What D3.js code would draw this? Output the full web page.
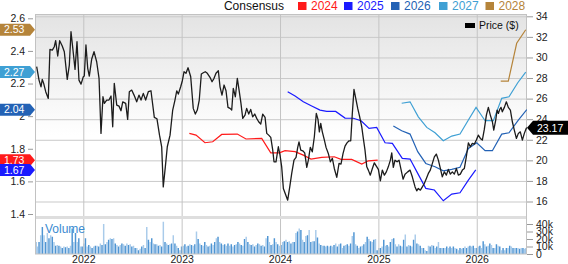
<!DOCTYPE html>
<html><head><meta charset="utf-8">
<script src="https://cdnjs.cloudflare.com/ajax/libs/d3/7.8.5/d3.min.js"></script>
<style>
body{margin:0;background:#fff}
svg{display:block;font-family:"Liberation Sans",Arial,Helvetica,sans-serif}
</style>
</head><body><svg id="c" width="568" height="264"></svg>
<script>
// ---------- DATA ----------
const yearTicks = [2022, 2023, 2024, 2025, 2026];
const priceTicks = [16, 18, 20, 22, 24, 26, 28, 30, 32, 34];
const epsTicks = [1.4, 1.6, 1.8, 2.0, 2.2, 2.4, 2.6];
const volumeTicks = [0, 10, 20, 30, 40];
const legendYears = ["2024", "2025", "2026", "2027", "2028"];
const legendColors = ["#ff1a1a", "#1a1aff", "#2362b5", "#3fa0d4", "#b5843a"];

const priceDates = [
2021.526,2021.550,2021.570,2021.583,2021.597,2021.618,2021.644,2021.661,2021.685,2021.705,
2021.719,2021.740,2021.760,2021.786,2021.807,2021.837,2021.858,2021.875,2021.895,2021.916,
2021.936,2021.956,2021.977,2022.000,2022.010,2022.027,2022.045,2022.061,2022.085,2022.109,
2022.136,2022.160,2022.180,2022.200,2022.214,2022.238,2022.261,2022.282,2022.299,2022.315,
2022.340,2022.363,2022.383,2022.401,2022.431,2022.451,2022.468,2022.492,2022.516,2022.543,
2022.566,2022.587,2022.610,2022.634,2022.661,2022.688,2022.722,2022.749,2022.775,2022.797,
2022.813,2022.834,2022.854,2022.882,2022.909,2022.932,2022.950,2022.966,2022.990,2023.007,
2023.024,2023.044,2023.065,2023.092,2023.118,2023.139,2023.159,2023.179,2023.200,2023.220,
2023.240,2023.261,2023.288,2023.309,2023.329,2023.349,2023.373,2023.390,2023.410,2023.431,
2023.451,2023.471,2023.492,2023.509,2023.525,2023.546,2023.566,2023.586,2023.603,2023.621,
2023.644,2023.661,2023.682,2023.702,2023.722,2023.743,2023.763,2023.783,2023.804,2023.824,
2023.848,2023.865,2023.885,2023.906,2023.926,2023.939,2023.959,2023.983,2024.000,2024.017,
2024.034,2024.078,2024.099,2024.119,2024.142,2024.163,2024.180,2024.193,2024.211,2024.231,
2024.251,2024.272,2024.288,2024.308,2024.328,2024.349,2024.369,2024.386,2024.400,2024.414,
2024.430,2024.451,2024.468,2024.491,2024.512,2024.532,2024.552,2024.577,2024.600,2024.620,
2024.641,2024.661,2024.681,2024.702,2024.719,2024.735,2024.752,2024.770,2024.790,2024.810,
2024.831,2024.847,2024.864,2024.882,2024.898,2024.918,2024.939,2024.959,2024.979,2025.000,
2025.020,2025.040,2025.061,2025.081,2025.101,2025.122,2025.136,2025.152,2025.169,2025.190,
2025.210,2025.230,2025.251,2025.271,2025.298,2025.322,2025.345,2025.373,2025.390,2025.406,
2025.427,2025.447,2025.467,2025.488,2025.508,2025.528,2025.549,2025.569,2025.589,2025.610,
2025.630,2025.650,2025.671,2025.691,2025.711,2025.732,2025.752,2025.772,2025.793,2025.813,
2025.833,2025.854,2025.874,2025.894,2025.915,2025.935,2025.955,2025.976,2025.996,2026.016,
2026.037,2026.057,2026.077,2026.098,2026.118,2026.138,2026.159,2026.173,2026.193,2026.207,
2026.220,2026.234,2026.247,2026.260,2026.281,2026.301,2026.321,2026.342,2026.362,2026.382,
2026.403,2026.423,2026.443,2026.464,2026.484,2026.504,2026.511];
const priceClose = [
29.10,27.80,27.15,27.87,27.48,26.67,26.02,30.79,30.72,31.04,
31.63,30.14,31.63,31.11,30.56,27.87,29.26,32.50,30.72,28.84,
31.53,27.80,27.41,28.12,28.19,31.21,28.94,28.19,29.82,30.56,
29.58,27.97,22.62,26.18,25.54,25.86,25.86,26.25,23.26,27.48,
25.37,25.27,24.82,25.69,25.54,23.98,26.67,26.83,26.34,25.69,
26.34,25.86,26.51,25.86,26.67,26.76,24.18,24.04,22.45,21.32,
17.42,19.37,21.32,22.45,24.89,25.86,26.76,26.44,27.15,27.74,
28.61,28.46,29.00,28.12,25.05,24.50,24.89,25.86,28.39,28.51,
28.61,28.46,28.07,27.64,27.97,28.46,28.71,27.15,26.34,27.32,
26.76,25.15,25.05,24.89,27.00,26.18,27.97,26.67,25.54,24.08,
24.40,25.05,24.50,24.95,24.23,24.50,24.08,23.75,23.52,24.50,
24.18,22.62,22.45,22.23,20.99,19.86,19.86,21.32,20.51,19.37,
17.27,16.13,17.42,18.73,20.02,20.28,21.26,21.80,20.99,20.93,
20.73,19.31,20.02,21.26,20.83,22.29,24.56,23.98,22.77,23.59,
22.77,21.97,21.26,20.67,19.86,20.19,19.21,18.34,19.70,19.63,
20.67,21.38,21.70,21.90,21.90,24.56,26.90,26.02,25.05,24.23,
23.26,22.13,20.99,19.37,19.05,18.56,19.21,19.76,19.44,19.12,
18.01,19.05,18.56,18.88,19.37,20.02,20.73,19.31,20.02,19.86,
20.02,19.12,18.17,18.65,18.88,19.05,18.40,17.42,17.04,17.27,
17.10,17.42,17.75,18.24,18.73,19.05,19.70,20.34,20.61,20.02,
19.21,18.40,18.88,18.56,19.12,18.66,18.88,18.66,19.21,18.56,
18.66,19.05,19.21,20.34,21.70,21.32,21.65,21.58,21.97,22.45,
22.13,21.97,23.01,24.40,25.15,24.40,23.75,22.94,23.91,24.89,
24.56,24.95,25.15,24.72,25.15,25.69,25.15,24.89,23.75,22.94,
22.13,22.62,22.77,21.97,22.62,23.11,23.17];

const cons2024Dates = [2023.078,2023.146,2023.237,2023.316,2023.407,2023.566,2023.654,2023.814,2023.906,2023.993,2024.051,2024.153,2024.237,2024.315,2024.424,2024.552,2024.620,2024.729,2024.831,2024.898,2024.993];
const cons2024Values = [1.894,1.884,1.837,1.843,1.888,1.890,1.860,1.864,1.775,1.775,1.788,1.782,1.761,1.737,1.747,1.751,1.735,1.735,1.706,1.726,1.73];
const cons2025Dates = [2024.078,2024.153,2024.237,2024.322,2024.407,2024.475,2024.566,2024.661,2024.745,2024.824,2024.905,2024.983,2025.068,2025.142,2025.243,2025.322,2025.400,2025.482,2025.569,2025.660,2025.746,2025.830,2025.915,2025.990];
const cons2025Values = [2.150,2.123,2.088,2.062,2.037,2.029,2.029,1.988,1.987,1.972,1.925,1.931,1.837,1.833,1.741,1.737,1.649,1.557,1.547,1.481,1.522,1.530,1.608,1.67];
const cons2026Dates = [2025.152,2025.237,2025.322,2025.400,2025.482,2025.576,2025.660,2025.746,2025.830,2025.915,2026.000,2026.085,2026.159,2026.254,2026.328,2026.423,2026.509];
const cons2026Values = [1.939,1.910,1.890,1.782,1.710,1.690,1.665,1.674,1.686,1.802,1.837,1.788,1.788,1.890,1.898,1.976,2.04];
const cons2027Dates = [2025.237,2025.322,2025.406,2025.492,2025.576,2025.660,2025.746,2025.830,2025.915,2025.993,2026.085,2026.169,2026.254,2026.328,2026.417,2026.498];
const cons2027Values = [2.079,2.088,1.996,1.931,1.898,1.849,1.878,1.890,1.976,2.054,1.972,1.972,2.109,2.119,2.205,2.27];
const cons2028Dates = [2026.244,2026.321,2026.406,2026.498];
const cons2028Values = [2.215,2.215,2.447,2.53];

// weekly volume, thousands of shares
const volumeK = [
16,10,16,25,36,25,16,28,21,25,23,16,11,12,11,10,8,10,9,10,
8,11,34,16,28,16,21,10,10,14,21,10,12,10,8,10,11,11,10,14,
12,40,13,16,19,21,20,21,14,12,10,12,14,13,11,14,12,13,10,11,
8,8,5,7,10,12,8,36,19,16,21,14,13,13,11,12,10,43,16,14,
12,13,14,25,14,11,8,5,10,11,13,10,11,13,12,11,13,30,20,14,
12,11,16,12,10,11,14,12,16,21,23,16,14,12,13,11,14,11,13,10,
12,13,16,14,12,11,20,23,16,13,12,13,10,12,14,13,11,12,10,21,
24,16,12,13,21,16,13,11,12,16,
17,19,16,17,14,16,16,28,30,34,32,19,16,24,25,32,16,17,17,32,
22,14,12,11,11,10,11,10,11,10,12,14,10,13,14,8,11,12,13,11,
14,24,29,13,11,8,10,11,13,16,23,20,17,16,19,20,5,8,8,10,
19,11,12,10,16,20,21,13,10,13,11,10,19,26,10,12,11,10,19,26,
14,13,11,8,8,5,4,11,10,12,11,8,10,16,8,8,8,8,10,8,
10,8,10,8,7,5,8,7,8,10,8,10,11,10,11,8,8,10,11,8,
17,13,10,11,14,12,8,8,13,11,10,5,8,5,8,8,11,10,8,8,
8,8,7,8,8,7,8];

// ---------- LAYOUT ----------
const plotL = 35, plotR = 527, plotT = 14, mainB = 216, sepB = 219, volB = 254;
const svg = d3.select("#c");
const x = d3.scaleLinear().domain([2021.509, 2026.511]).range([plotL, plotR]);
const yR = d3.scaleLinear().domain([16, 34]).range([201.5, 16.3]);
const yL = d3.scaleLinear().domain([1.4, 2.6]).range([214, 18.3]);
const yV = d3.scaleLinear().domain([0, 40]).range([volB, 224]);
const xb = d3.scaleBand().domain(d3.range(volumeK.length)).range([plotL, plotR]).paddingInner(0.12);

const defs = svg.append("defs");
const g = defs.append("linearGradient").attr("id", "bg").attr("x1", 0).attr("y1", 0).attr("x2", 0).attr("y2", 1);
g.append("stop").attr("offset", "0%").attr("stop-color", "#e3e3e3");
g.append("stop").attr("offset", "60%").attr("stop-color", "#ffffff");
defs.append("clipPath").attr("id", "clipMain").append("rect")
  .attr("x", plotL).attr("y", plotT).attr("width", plotR - plotL).attr("height", mainB - plotT);

// backgrounds
svg.append("rect").attr("x", plotL).attr("y", plotT).attr("width", plotR - plotL).attr("height", mainB - plotT).attr("fill", "url(#bg)");
svg.append("rect").attr("x", plotL).attr("y", sepB).attr("width", plotR - plotL).attr("height", volB - sepB).attr("fill", "#fff");

// horizontal grid (right axis)
svg.append("g").attr("transform", `translate(${plotL},0)`)
  .call(d3.axisRight(yR).tickValues(priceTicks).tickSize(plotR - plotL).tickFormat(""))
  .call(s => s.select(".domain").remove())
  .call(s => s.selectAll("line").attr("stroke", "#c9c9c9"));

// volume bars
svg.append("g").selectAll("rect").data(volumeK).join("rect")
  .attr("x", (d, i) => xb(i)).attr("width", xb.bandwidth())
  .attr("y", d => yV(d)).attr("height", d => volB - yV(d))
  .attr("fill", (d, i) => i % 2 ? "#a9cbea" : "#4f95d3");

// vertical grid
svg.append("g").attr("transform", `translate(0,${plotT})`)
  .call(d3.axisBottom(x).tickValues(yearTicks).tickSize(volB - plotT).tickFormat(""))
  .call(s => s.select(".domain").remove())
  .call(s => s.selectAll("line").attr("stroke", "#c4c4c4"));

// separator band
svg.append("rect").attr("x", plotL).attr("y", mainB).attr("width", plotR - plotL).attr("height", sepB - mainB).attr("fill", "#dedede");

// border
svg.append("rect").attr("x", plotL + 0.5).attr("y", plotT + 0.5).attr("width", plotR - plotL - 1).attr("height", volB - plotT - 0.5)
  .attr("fill", "none").attr("stroke", "#c2c2c2");

// lines
const lineL = d3.line().x(d => x(d[0])).y(d => yL(d[1]));
const lineR = d3.line().x(d => x(d[0])).y(d => yR(d[1]));
const consSeries = [
  [cons2024Dates, cons2024Values],
  [cons2025Dates, cons2025Values],
  [cons2026Dates, cons2026Values],
  [cons2027Dates, cons2027Values],
  [cons2028Dates, cons2028Values]
];
const lines = svg.append("g").attr("clip-path", "url(#clipMain)");
consSeries.forEach((s, i) => {
  lines.append("path").datum(d3.zip(s[0], s[1])).attr("d", lineL)
    .attr("fill", "none").attr("stroke", legendColors[i]).attr("stroke-width", 1.2);
});
lines.append("path").datum(d3.zip(priceDates, priceClose)).attr("d", lineR)
  .attr("fill", "none").attr("stroke", "#1c1c1c").attr("stroke-width", 1.3).attr("stroke-linejoin", "round");

// axes
const tickStyle = s => {
  s.select(".domain").remove();
  s.selectAll("text").attr("fill", "#222").style("font-size", "10.5px").style("font-family", "inherit");
  s.selectAll("line").attr("stroke", "#999");
};
svg.append("g").attr("transform", `translate(33,0)`)
  .call(d3.axisLeft(yL).tickValues(epsTicks).tickSize(5).tickPadding(3).tickFormat(d3.format(".2~f")))
  .call(tickStyle);
svg.append("g").attr("transform", `translate(${plotR},0)`)
  .call(d3.axisRight(yR).tickValues(priceTicks).tickSize(6).tickPadding(3))
  .call(tickStyle);
svg.append("g").attr("transform", `translate(${plotR},0)`)
  .call(d3.axisRight(yV).tickValues(volumeTicks).tickSize(6).tickPadding(3).tickFormat(d => d ? d + "k" : "0"))
  .call(tickStyle);
svg.append("g").attr("transform", `translate(0,${volB})`)
  .call(d3.axisBottom(x).tickValues(yearTicks).tickSize(0).tickPadding(1.5).tickFormat(d3.format("d")))
  .call(tickStyle);

// left value tags
consSeries.forEach((s, i) => {
  const v = s[1][s[1].length - 1];
  const yc = yL(v);
  svg.append("path").attr("d", `M0,${yc - 6}H30L35,${yc}L30,${yc + 6}H0Z`).attr("fill", legendColors[i]);
  svg.append("text").attr("x", 4).attr("y", yc).attr("dy", "0.36em").attr("fill", "#fff")
    .style("font-size", "10.5px").text(d3.format(".2f")(v));
});

// right price tag
const lastP = priceClose[priceClose.length - 1];
const yp = yR(lastP);
svg.append("path").attr("d", `M${plotR},${yp}L${plotR + 6},${yp - 7}H568V${yp + 7}H${plotR + 6}Z`).attr("fill", "#000");
svg.append("text").attr("x", plotR + 10).attr("y", yp).attr("dy", "0.36em").attr("fill", "#fff")
  .style("font-size", "10.5px").text(d3.format(".2f")(lastP));

// legend
svg.append("text").attr("x", 284).attr("y", 10).attr("text-anchor", "end").attr("fill", "#111")
  .style("font-size", "12px").text("Consensus");
const legX = [298, 344, 391, 439, 485.5];
legendYears.forEach((yr, i) => {
  svg.append("rect").attr("x", legX[i]).attr("y", 2).attr("width", 8.5).attr("height", 8).attr("fill", legendColors[i]);
  svg.append("text").attr("x", legX[i] + 13).attr("y", 10).attr("fill", legendColors[i])
    .style("font-size", "12px").text(yr);
});
svg.append("rect").attr("x", 465).attr("y", 23).attr("width", 10).attr("height", 5).attr("fill", "#000");
svg.append("text").attr("x", 479).attr("y", 29).attr("fill", "#111").style("font-size", "10.5px").text("Price ($)");
svg.append("text").attr("x", 45).attr("y", 233).attr("fill", "#3b8bd1").style("font-size", "12px").text("Volume");
</script>
</body></html>
